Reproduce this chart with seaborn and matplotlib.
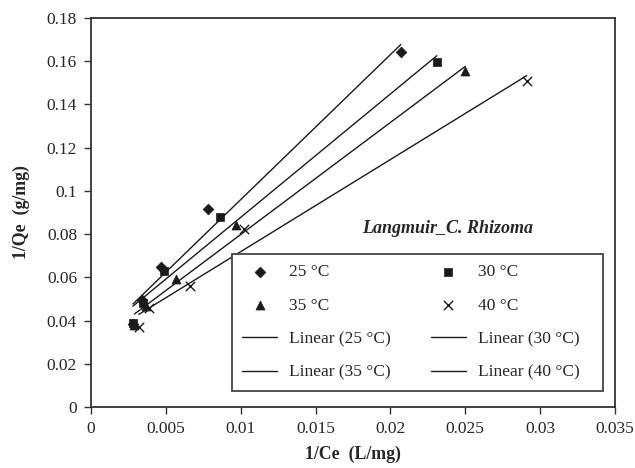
import matplotlib
matplotlib.use("Agg")
import matplotlib.pyplot as plt
import seaborn as sns
import pandas as pd
import numpy as np

# ---- data ----
temps = ["25 °C", "30 °C", "35 °C", "40 °C"]
x25 = [0.0028, 0.0034, 0.0047, 0.0078, 0.0207]
y25 = [0.0385, 0.0495, 0.0646, 0.0916, 0.1645]
x30 = [0.0028, 0.0035, 0.0049, 0.0086, 0.0231]
y30 = [0.0390, 0.0483, 0.0631, 0.0881, 0.1598]
x35 = [0.0029, 0.0037, 0.0057, 0.0097, 0.0250]
y35 = [0.0380, 0.0467, 0.0591, 0.0842, 0.1556]
x40 = [0.0032, 0.0039, 0.0066, 0.0102, 0.0291]
y40 = [0.0372, 0.0457, 0.0560, 0.0824, 0.1509]
xticks = [0, 0.005, 0.01, 0.015, 0.02, 0.025, 0.03, 0.035]
xticklabels = ["0", "0.005", "0.01", "0.015", "0.02", "0.025", "0.03", "0.035"]
yticks = [0, 0.02, 0.04, 0.06, 0.08, 0.1, 0.12, 0.14, 0.16, 0.18]
yticklabels = ["0", "0.02", "0.04", "0.06", "0.08", "0.1", "0.12", "0.14", "0.16", "0.18"]

xs = [x25, x30, x35, x40]
ys = [y25, y30, y35, y40]
markers = ["D", "s", "^", "x"]
msizes = [30, 36, 42, 45]

sns.set_theme(style="ticks")
plt.rcParams["font.family"] = ["Liberation Serif", "DejaVu Serif"]

fig = plt.figure(figsize=(6.35, 4.68), dpi=100)
ax = fig.add_axes([0.1433, 0.1303, 0.8252, 0.8312])

ink = "#1a1a1a"
scat_handles = []
line_handles = []
for t, xv, yv, m, s in zip(temps, xs, ys, markers, msizes):
    df = pd.DataFrame({"x": xv, "y": yv})
    sns.regplot(data=df, x="x", y="y", ax=ax, scatter=False, ci=None,
                truncate=True, color=ink, line_kws={"lw": 1.0},
                label="Linear (" + t + ")")
    line_handles.append(ax.lines[-1])
    if m == "x":
        sns.scatterplot(data=df, x="x", y="y", ax=ax, marker=m, s=s,
                        color=ink, linewidth=1.0, label=t, zorder=3)
    else:
        sns.scatterplot(data=df, x="x", y="y", ax=ax, marker=m, s=s,
                        color=ink, edgecolor=ink, linewidth=0.5, label=t, zorder=3)
    scat_handles.append(ax.collections[-1])

ax.set_xlim(0, 0.035)
ax.set_ylim(0, 0.18)
ax.set_xticks(xticks)
ax.set_xticklabels(xticklabels)
ax.set_yticks(yticks)
ax.set_yticklabels(yticklabels)
ax.tick_params(axis="both", labelsize=12.5, length=5, width=1.0, color="#333333",
               direction="out", pad=5)
for sp in ax.spines.values():
    sp.set_color("#333333")
    sp.set_linewidth(1.3)

ax.set_xlabel("1/Ce  (L/mg)", fontsize=12.8, fontweight="bold", labelpad=6)
ax.set_ylabel("1/Qe  (g/mg)", fontsize=12.8, fontweight="bold", labelpad=12)

ax.text(0.02381, 0.0828, "Langmuir_C. Rhizoma", fontsize=13,
        fontweight="bold", fontstyle="italic", ha="center", va="center")

# legend ordering: column-first for ncol=2
pad = "   "
handles = [scat_handles[0], scat_handles[2], line_handles[0], line_handles[2],
           scat_handles[1], scat_handles[3], line_handles[1], line_handles[3]]
labels = [temps[0], temps[2], "Linear (" + temps[0] + ")", "Linear (" + temps[2] + ")",
          temps[1], temps[3], "Linear (" + temps[1] + ")" + pad, "Linear (" + temps[3] + ")" + pad]
leg = ax.legend(handles, labels, ncol=2, loc="lower left",
                bbox_to_anchor=(0.269, 0.041, 0.708, 0.35), mode="expand",
                fontsize=12.5, frameon=True, fancybox=False, framealpha=1,
                labelspacing=1.0, handlelength=2.0, handletextpad=0.7,
                borderpad=0.6, borderaxespad=0)
leg.get_frame().set_edgecolor("#444444")
leg.get_frame().set_linewidth(1.3)

fig.savefig("out.png", dpi=100)
